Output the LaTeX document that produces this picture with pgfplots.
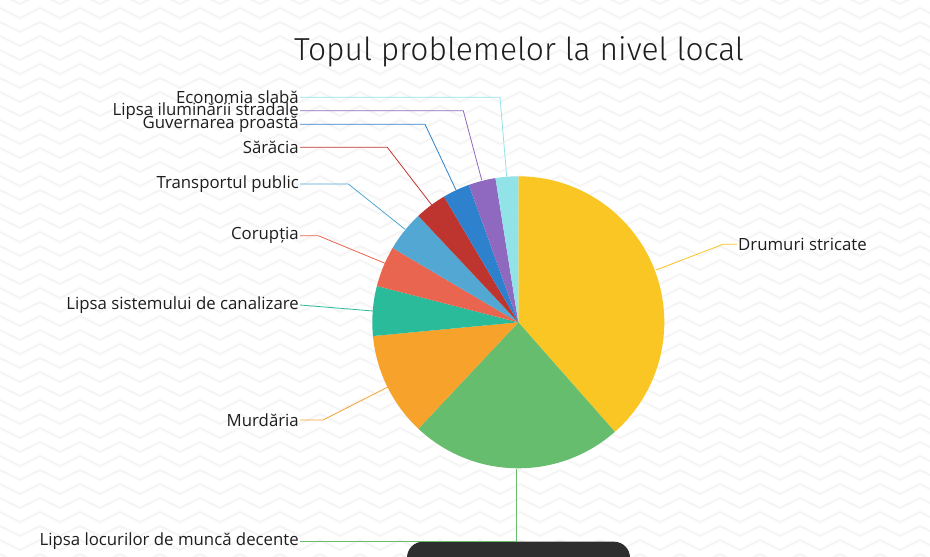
\documentclass[border=0pt]{standalone}
\usepackage{pgfplots}
\pgfplotsset{compat=1.18}
\usepackage{pgfplotstable}
\usepackage{fontspec}
\setmainfont{Open Sans}
\newfontfamily\titlefont{Fira Sans Light}

\definecolor{cDrum}{HTML}{F9C623}
\definecolor{cMunca}{HTML}{66BD6E}
\definecolor{cMurd}{HTML}{F7A22B}
\definecolor{cCanal}{HTML}{2ABB9B}
\definecolor{cCorup}{HTML}{E9654F}
\definecolor{cTransp}{HTML}{52A7D3}
\definecolor{cSarac}{HTML}{BE3530}
\definecolor{cGuv}{HTML}{2E82CD}
\definecolor{cIlum}{HTML}{8E69BF}
\definecolor{cEcon}{HTML}{92E3E8}
\definecolor{txt}{HTML}{1E1E1E}

% number of answers per problem
\pgfplotstableread{
problem  count
Drum     77
Munca    47
Murd     23
Canal    11
Corup    9
Transp   9
Sarac    7
Guv      6
Ilum     6
Econ     5
}\problems

\def\total{200}
\def\cumsum{0}
% one slice, clockwise from the top
\newcommand\slice[2]{%
  \pgfmathsetmacro\sa{90-\cumsum/\total*360}%
  \pgfmathsetmacro\newcum{\cumsum+#1}%
  \pgfmathsetmacro\sb{90-\newcum/\total*360}%
  \global\let\cumsum\newcum
  \edef\tmp{\noexpand\fill[#2] (axis cs:518.3,234.7) -- ++(\sa:146pt)
    arc[start angle=\sa, end angle=\sb, radius=146pt] -- cycle;}%
  \tmp}

\begin{document}
\begin{tikzpicture}[x=1pt,y=1pt]
\useasboundingbox (0,0) rectangle (930,557);
% background
\fill[white] (0,0) rectangle (930,557);
\begin{scope}
\clip (0,0) rectangle (930,557);
\foreach \j in {0,...,41} {
  \draw[black!4, line width=2pt] (-20,\j*14-7)
    \foreach \i in {0,...,24} { -- ++(20,10) -- ++(20,-10) };
}
\end{scope}

\begin{axis}[
    at={(0,0)}, anchor=south west,
    width=930pt, height=557pt, scale only axis,
    xmin=0, xmax=930, ymin=0, ymax=557,
    hide axis, clip=false,
]
\pgfplotstablegetelem{0}{count}\of\problems \slice{\pgfplotsretval}{cDrum}
\pgfplotstablegetelem{1}{count}\of\problems \slice{\pgfplotsretval}{cMunca}
\pgfplotstablegetelem{2}{count}\of\problems \slice{\pgfplotsretval}{cMurd}
\pgfplotstablegetelem{3}{count}\of\problems \slice{\pgfplotsretval}{cCanal}
\pgfplotstablegetelem{4}{count}\of\problems \slice{\pgfplotsretval}{cCorup}
\pgfplotstablegetelem{5}{count}\of\problems \slice{\pgfplotsretval}{cTransp}
\pgfplotstablegetelem{6}{count}\of\problems \slice{\pgfplotsretval}{cSarac}
\pgfplotstablegetelem{7}{count}\of\problems \slice{\pgfplotsretval}{cGuv}
\pgfplotstablegetelem{8}{count}\of\problems \slice{\pgfplotsretval}{cIlum}
\pgfplotstablegetelem{9}{count}\of\problems \slice{\pgfplotsretval}{cEcon}

% dark box at the bottom
\fill[black!82, rounded corners=16pt] (axis cs:407,-40) rectangle (axis cs:630,15.3);

% leader lines
\draw[cDrum, line width=0.8pt] (axis cs:656,287) -- (axis cs:723,312.7) -- (axis cs:737,312.7);
\draw[cMunca, line width=0.8pt] (axis cs:516,88) -- (axis cs:516,15.5) -- (axis cs:300,15.5);
\draw[cMurd, line width=0.8pt] (axis cs:388,170) -- (axis cs:323,137) -- (axis cs:300,137);
\draw[cCanal, line width=0.8pt] (axis cs:373,246) -- (axis cs:300,252);
\draw[cCorup, line width=0.8pt] (axis cs:385,293.7) -- (axis cs:318.3,321.3) -- (axis cs:300,321.3);
\draw[cTransp, line width=0.8pt] (axis cs:405,327.7) -- (axis cs:348.3,373) -- (axis cs:300,373);
\draw[cSarac, line width=0.8pt] (axis cs:431.7,352) -- (axis cs:387.3,409.7) -- (axis cs:300,409.7);
\draw[cGuv, line width=0.8pt] (axis cs:456,367) -- (axis cs:425,432.7) -- (axis cs:300,432.7);
\draw[cIlum, line width=0.8pt] (axis cs:481.7,377) -- (axis cs:463.3,446.3) -- (axis cs:300,446.3);
\draw[cEcon, line width=0.8pt] (axis cs:506.7,380.3) -- (axis cs:500,459.7) -- (axis cs:300,459.7);

% labels
\tikzset{lab/.style={font=\fontsize{16.8}{16.8}\selectfont, text=txt, inner sep=1pt}}
\node[lab, anchor=west] at (axis cs:737,312.7) {Drumuri stricate};
\node[lab, anchor=east] at (axis cs:300,15.5) {Lipsa locurilor de muncă decente};
\node[lab, anchor=east] at (axis cs:300,137) {Murdăria};
\node[lab, anchor=east] at (axis cs:300,252) {Lipsa sistemului de canalizare};
\node[lab, anchor=east] at (axis cs:300,321.3) {Corupția};
\node[lab, anchor=east] at (axis cs:300,373) {Transportul public};
\node[lab, anchor=east] at (axis cs:300,409.7) {Sărăcia};
\node[lab, anchor=east] at (axis cs:300,432.7) {Guvernarea proastă};
\node[lab, anchor=east] at (axis cs:300,446.3) {Lipsa iluminării stradale};
\node[lab, anchor=east] at (axis cs:300,459.7) {Economia slabă};

% title
\node[font=\titlefont\fontsize{31.8}{31.8}\selectfont, text=txt] at (axis cs:519,505.5) {Topul problemelor la nivel local};
\end{axis}
\end{tikzpicture}
\end{document}
